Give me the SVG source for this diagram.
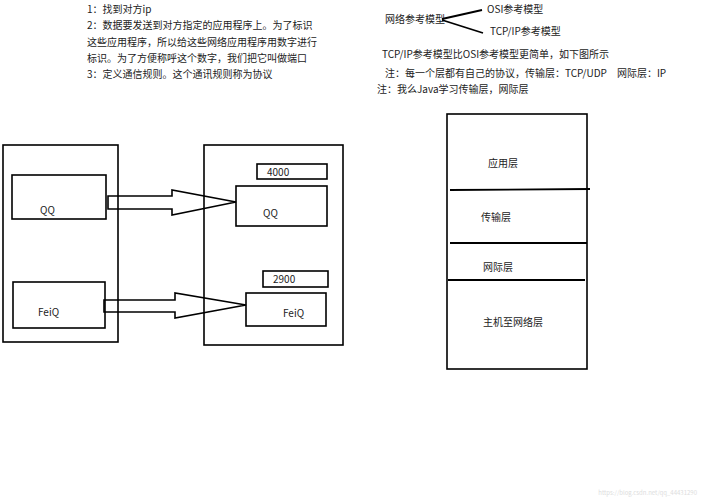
<svg xmlns="http://www.w3.org/2000/svg" width="703" height="500" viewBox="0 0 703 500">
<style>
text{font-family:"Noto Sans CJK SC","Liberation Sans",sans-serif;font-size:10px;fill:#222}
.b{fill:none;stroke:#000;stroke-width:1.6}
.l{stroke:#000;stroke-width:1.8}
</style>
<rect width="703" height="500" fill="#fff"/>
<g id="notes">
<text x="87" y="13">1：找到对方ip</text>
<text x="87" y="29">2：数据要发送到对方指定的应用程序上。为了标识</text>
<text x="87" y="46">这些应用程序，所以给这些网络应用程序用数字进行</text>
<text x="87" y="62">标识。为了方便称呼这个数字，我们把它叫做端口</text>
<text x="87" y="78">3：定义通信规则。这个通讯规则称为协议</text>
</g>
<g id="model">
<text x="385" y="23">网络参考模型</text>
<text x="487" y="13">OSI参考模型</text>
<text x="490" y="35">TCP/IP参考模型</text>
<line class="l" x1="442" y1="19" x2="482" y2="10"/>
<line class="l" x1="442" y1="20" x2="483" y2="33"/>
<text x="382" y="58">TCP/IP参考模型比OSI参考模型更简单，如下图所示</text>
<text x="385" y="77">注：每一个层都有自己的协议，传输层：TCP/UDP　网际层：IP</text>
<text x="377" y="93">注：我么Java学习传输层，网际层</text>
</g>
<g id="hostA">
<rect class="b" x="3" y="145" width="115" height="197"/>
<rect class="b" x="12" y="175" width="94" height="44"/><text x="40" y="214">QQ</text>
<rect class="b" x="13" y="282" width="92" height="46"/><text x="38" y="316">FeiQ</text>
</g>
<g id="hostB">
<rect class="b" x="204" y="145" width="139" height="200"/>
<rect class="b" x="257" y="164" width="70" height="15"/><text x="267" y="176">4000</text>
<rect class="b" x="236" y="186" width="91" height="40"/><text x="263" y="217">QQ</text>
<rect class="b" x="263" y="271" width="65" height="16"/><text x="273" y="283">2900</text>
<rect class="b" x="246" y="293" width="80" height="33"/><text x="283" y="317">FeiQ</text>
</g>
<g id="connectors">
<path class="b" d="M108,196 H172 V190 L236,202 L172,215 V209 H108 Z"/>
<path class="b" d="M104,300 H175 V293 L246,305 L175,318 V312 H104 Z"/>
</g>
<g id="layers">
<rect class="b" x="447" y="114" width="140" height="255"/>
<line class="l" x1="450" y1="190" x2="590" y2="189"/>
<line class="l" x1="450" y1="243" x2="587" y2="243"/>
<line class="l" x1="448" y1="280" x2="585" y2="280"/>
<text x="488" y="167">应用层</text>
<text x="481" y="221">传输层</text>
<text x="483" y="271">网际层</text>
<text x="483" y="326">主机至网络层</text>
</g>
<text x="697" y="495" text-anchor="end" style="font-size:6px;fill:#ddd">https://blog.csdn.net/qq_44431290</text>
</svg>
